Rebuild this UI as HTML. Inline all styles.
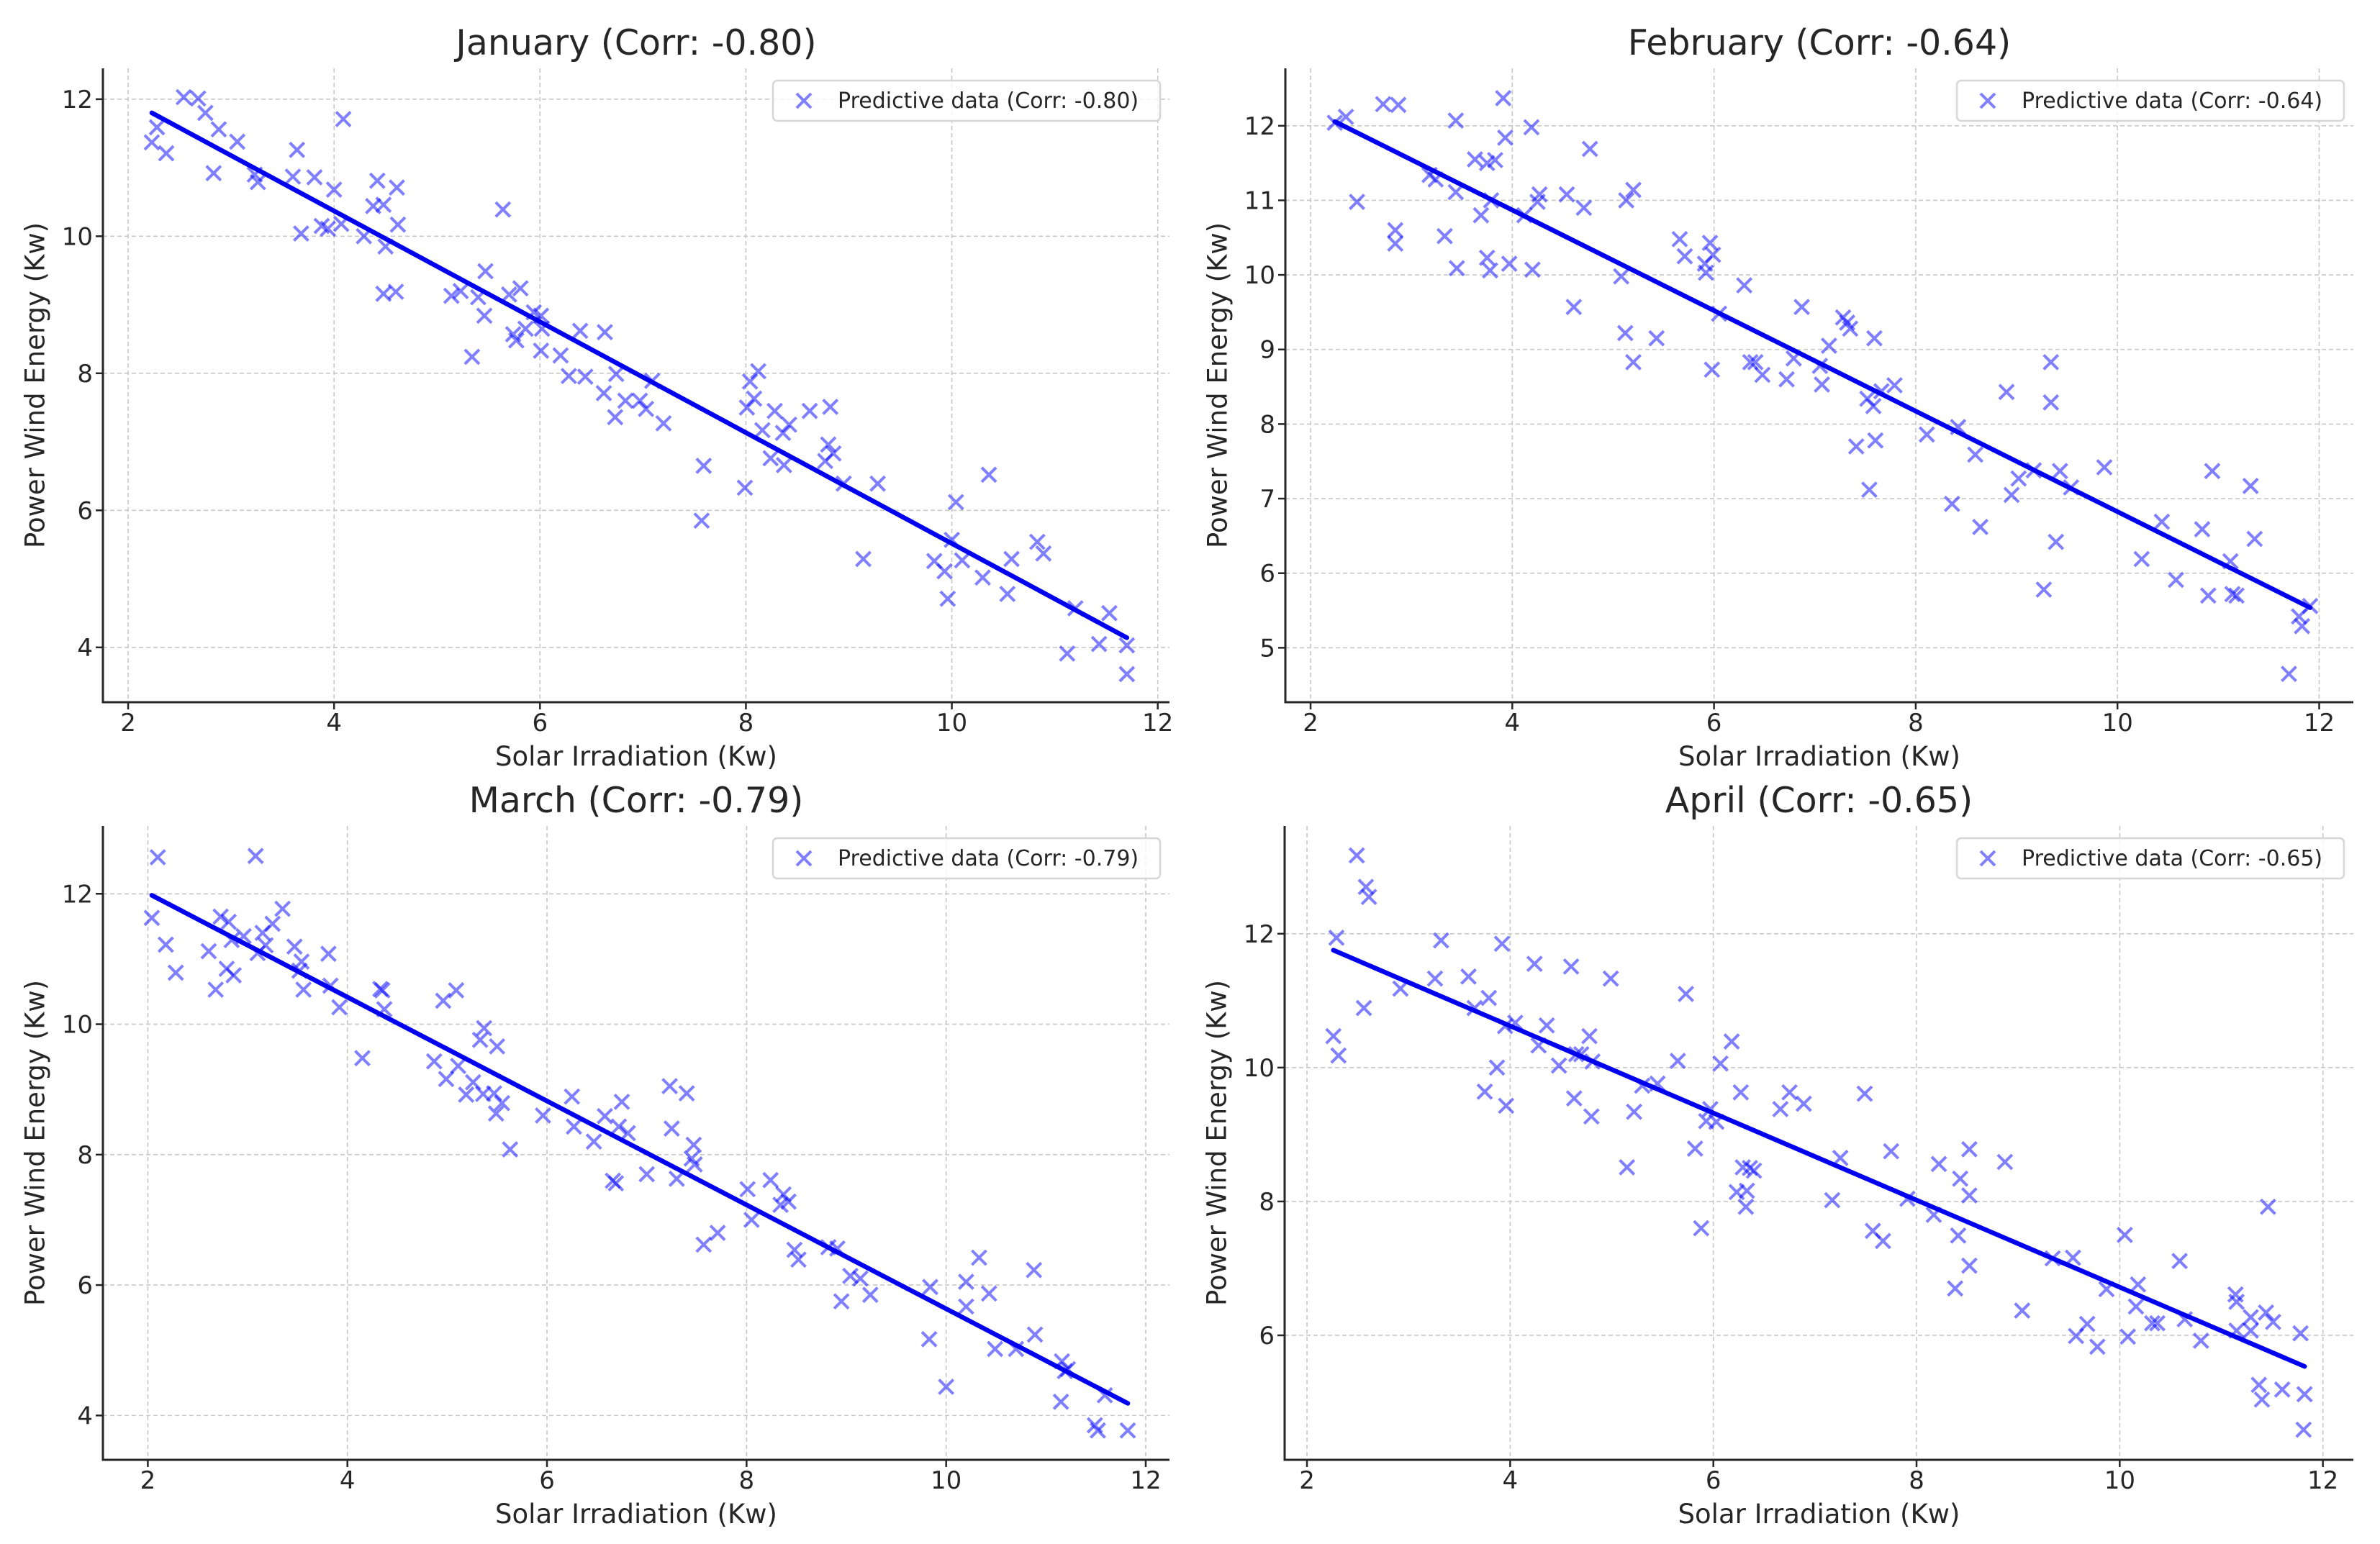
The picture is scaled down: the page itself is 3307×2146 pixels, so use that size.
<!DOCTYPE html>
<html><head><meta charset="utf-8"><title>Solar vs Wind</title>
<style>html,body{margin:0;padding:0;background:#fff}svg{display:block}text{font-family:"DejaVu Sans","Liberation Sans",sans-serif;fill:#262626}</style>
</head><body>
<svg id="chart" xmlns="http://www.w3.org/2000/svg" width="3307" height="2146" viewBox="0 0 3307 2146"></svg>
<script>
const janX=[2.23,2.28,2.37,2.54,2.68,2.75,2.88,2.83,3.06,3.23,3.26,3.6,3.64,3.68,3.81,3.88,3.94,4.0,4.09,4.07,4.29,4.42,4.38,4.48,4.5,4.48,4.61,4.62,4.6,5.14,5.23,5.4,5.47,5.46,5.34,5.64,5.7,5.81,5.74,5.77,5.86,5.94,6.01,6.02,6.01,6.2,6.28,6.39,6.44,6.63,6.62,6.74,6.73,6.83,6.97,7.03,7.09,7.2,7.59,7.57,7.99,8.01,8.04,8.08,8.12,8.16,8.24,8.28,8.36,8.37,8.42,8.62,8.77,8.8,8.85,8.82,8.95,9.28,9.14,9.83,9.93,9.96,10.0,10.04,10.1,10.3,10.36,10.54,10.58,10.83,10.89,11.12,11.2,11.43,11.53,11.7,11.7];
const janY=[11.37,11.59,11.21,12.03,12.01,11.8,11.56,10.92,11.38,10.9,10.79,10.87,11.26,10.04,10.86,10.15,10.11,10.68,11.71,10.18,10.0,10.81,10.44,10.46,9.85,9.16,10.71,10.17,9.19,9.13,9.2,9.11,9.49,8.84,8.24,10.39,9.15,9.24,8.57,8.48,8.65,8.89,8.84,8.65,8.33,8.26,7.96,8.62,7.95,8.6,7.71,7.99,7.36,7.6,7.6,7.48,7.89,7.27,6.65,5.85,6.33,7.5,7.88,7.63,8.03,7.17,6.76,7.45,7.13,6.66,7.25,7.45,6.72,6.96,6.83,7.51,6.39,6.39,5.29,5.26,5.11,4.71,5.57,6.12,5.27,5.02,6.52,4.78,5.29,5.54,5.37,3.91,4.57,4.05,4.5,4.03,3.61];
const febX=[2.24,2.35,2.46,2.72,2.87,2.84,2.84,3.18,3.24,3.33,3.44,3.44,3.45,3.63,3.69,3.75,3.75,3.78,3.83,3.79,3.91,3.93,3.97,4.12,4.19,4.2,4.25,4.27,4.54,4.61,4.71,4.77,5.08,5.13,5.2,5.12,5.2,5.43,5.66,5.71,5.91,5.92,5.96,5.99,5.98,6.05,6.3,6.36,6.41,6.48,6.72,6.79,6.87,7.05,7.07,7.14,7.28,7.32,7.35,7.41,7.54,7.52,7.58,7.59,7.6,7.66,7.79,8.11,8.36,8.42,8.59,8.64,8.9,8.95,9.02,9.17,9.27,9.34,9.34,9.39,9.43,9.54,9.87,10.24,10.44,10.58,10.84,10.9,10.94,11.12,11.14,11.18,11.32,11.36,11.7,11.8,11.83,11.91];
const febY=[12.04,12.12,10.98,12.29,12.28,10.6,10.42,11.34,11.28,10.52,12.07,11.11,10.09,11.55,10.8,11.5,10.23,10.06,11.54,11.0,12.37,11.84,10.15,10.8,11.98,10.07,10.98,11.08,11.08,9.57,10.9,11.69,9.98,11.0,11.14,9.22,8.83,9.15,10.48,10.25,10.15,10.03,10.43,10.27,8.73,9.48,9.86,8.83,8.83,8.66,8.6,8.88,9.57,8.78,8.53,9.05,9.43,9.36,9.28,7.7,7.12,8.34,8.24,9.15,7.78,8.44,8.52,7.86,6.93,7.96,7.59,6.62,8.43,7.05,7.27,7.38,5.78,8.83,8.29,6.42,7.37,7.15,7.42,6.19,6.69,5.91,6.59,5.7,7.37,6.16,5.72,5.7,7.17,6.46,4.65,5.42,5.29,5.56];
const marX=[2.04,2.1,2.18,2.28,2.61,2.68,2.73,2.79,2.81,2.84,2.86,2.96,3.08,3.1,3.15,3.18,3.25,3.35,3.47,3.52,3.54,3.56,3.81,3.83,3.92,4.15,4.33,4.35,4.37,4.87,4.96,5.09,4.99,5.11,5.19,5.26,5.33,5.37,5.36,5.47,5.49,5.5,5.55,5.63,5.96,6.25,6.27,6.47,6.58,6.66,6.69,6.72,6.75,6.81,7.0,7.23,7.25,7.3,7.4,7.45,7.47,7.48,7.57,7.71,8.01,8.05,8.24,8.34,8.37,8.42,8.48,8.52,8.82,8.91,8.95,9.04,9.14,9.24,9.84,9.83,10.0,10.2,10.2,10.33,10.43,10.49,10.7,10.88,10.89,11.15,11.16,11.19,11.22,11.49,11.52,11.59,11.82];
const marY=[11.63,12.56,11.22,10.79,11.12,10.53,11.65,10.85,11.57,11.29,10.75,11.35,12.58,11.09,11.4,11.21,11.54,11.77,11.19,10.82,10.96,10.53,11.08,10.59,10.26,9.48,10.54,10.52,10.23,9.43,10.36,10.52,9.16,9.36,8.92,9.11,9.76,9.94,8.93,8.94,8.63,9.66,8.79,8.08,8.6,8.89,8.43,8.2,8.59,7.6,7.56,8.43,8.81,8.33,7.7,9.05,8.4,7.63,8.94,7.94,8.15,7.85,6.62,6.8,7.47,7.0,7.61,7.23,7.39,7.28,6.54,6.39,6.58,6.56,5.75,6.14,6.1,5.85,5.97,5.17,4.44,6.05,5.67,6.42,5.87,5.02,5.02,6.23,5.24,4.21,4.83,4.68,4.71,3.85,3.77,4.31,3.77];
const aprX=[2.26,2.29,2.31,2.49,2.56,2.58,2.61,2.92,3.26,3.32,3.59,3.65,3.75,3.79,3.87,3.92,3.95,3.96,4.05,4.24,4.28,4.36,4.48,4.6,4.63,4.65,4.7,4.78,4.8,4.81,4.99,5.15,5.22,5.3,5.45,5.65,5.73,5.82,5.88,5.93,5.97,6.03,6.07,6.18,6.27,6.23,6.29,6.32,6.33,6.36,6.4,6.66,6.75,6.89,7.17,7.25,7.49,7.57,7.67,7.75,7.91,8.17,8.22,8.38,8.41,8.43,8.52,8.52,8.52,8.87,9.04,9.34,9.54,9.57,9.68,9.78,9.87,10.05,10.08,10.16,10.18,10.32,10.37,10.59,10.64,10.8,11.14,11.15,11.15,11.29,11.29,11.37,11.4,11.44,11.46,11.51,11.6,11.78,11.82,11.81];
const aprY=[10.47,11.94,10.18,13.17,10.89,12.7,12.55,11.18,11.33,11.9,11.36,10.89,9.64,11.04,10.0,11.85,10.62,9.43,10.67,11.55,10.33,10.63,10.03,11.51,9.54,10.2,10.2,10.47,9.27,10.09,11.33,8.51,9.34,9.73,9.76,10.1,11.1,8.79,7.6,9.2,9.38,9.19,10.06,10.39,9.63,8.14,8.51,7.92,8.16,8.5,8.46,9.38,9.63,9.46,8.02,8.65,9.61,7.56,7.41,8.75,8.04,7.8,8.56,6.7,7.49,8.34,8.78,8.09,7.04,8.59,6.37,7.15,7.16,5.99,6.17,5.83,6.69,7.5,5.98,6.43,6.76,6.18,6.18,7.11,6.24,5.92,6.61,6.5,6.07,6.27,6.07,5.26,5.04,6.34,7.92,6.2,5.19,6.03,5.12,4.59];
const xTicks=[2,4,6,8,10,12];
const janYTicks=[4,6,8,10,12];
const febYTicks=[5,6,7,8,9,10,11,12];
const marYTicks=[4,6,8,10,12];
const aprYTicks=[6,8,10,12];
const titles=["January (Corr: -0.80)","February (Corr: -0.64)","March (Corr: -0.79)","April (Corr: -0.65)"];
const legends=["Predictive data (Corr: -0.80)","Predictive data (Corr: -0.64)","Predictive data (Corr: -0.79)","Predictive data (Corr: -0.65)"];

const panels=[
 {key:'january',xs:janX,ys:janY,yt:janYTicks,L:143,R:1625,T:95,B:976,xmin:1.755,xmax:12.114,ymin:3.2,ymax:12.45},
 {key:'february',xs:febX,ys:febY,yt:febYTicks,L:1786,R:3270,T:95,B:976,xmin:1.75,xmax:12.339,ymin:4.27,ymax:12.77},
 {key:'march',xs:marX,ys:marY,yt:marYTicks,L:143,R:1625,T:1148,B:2029,xmin:1.55,xmax:12.238,ymin:3.32,ymax:13.04},
 {key:'april',xs:aprX,ys:aprY,yt:aprYTicks,L:1785,R:3270,T:1148,B:2029,xmin:1.78,xmax:12.30,ymin:4.14,ymax:13.61}
];
const NS='http://www.w3.org/2000/svg';
const svg=document.getElementById('chart');
function mk(tag,attrs,parent){const e=document.createElementNS(NS,tag);for(const k in attrs)e.setAttribute(k,attrs[k]);(parent||svg).appendChild(e);return e;}
function cross(g,cx,cy,s,stroke,w){
  return mk('path',{d:`M${cx-s},${cy-s}L${cx+s},${cy+s}M${cx-s},${cy+s}L${cx+s},${cy-s}`,stroke:stroke,'stroke-width':w,fill:'none'},g);}
panels.forEach((P,i)=>{
  const sx=v=>P.L+(v-P.xmin)/(P.xmax-P.xmin)*(P.R-P.L);
  const sy=v=>P.B-(v-P.ymin)/(P.ymax-P.ymin)*(P.B-P.T);
  const g=mk('g',{});
  
  
  const grid=mk('g',{stroke:'#c8c8c8','stroke-width':1.6,'stroke-dasharray':'6,4'},g);
  
  
  xTicks.forEach(t=>{mk('line',{x1:sx(t),x2:sx(t),y1:P.T,y2:P.B},grid);});
  P.yt.forEach(t=>{mk('line',{x1:P.L,x2:P.R,y1:sy(t),y2:sy(t)},grid);});
  const xa=mk('g',{},g);
  
  
  xTicks.forEach(t=>{
    mk('line',{x1:sx(t),x2:sx(t),y1:P.B,y2:P.B+10,stroke:'#262626','stroke-width':2.5},xa);
    const tx=mk('text',{x:sx(t),y:P.B+40,'font-size':34,'text-anchor':'middle'},xa);tx.textContent=t;
    
    
  });
  const ya=mk('g',{},g);
  
  
  P.yt.forEach(t=>{
    mk('line',{x1:P.L-10,x2:P.L,y1:sy(t),y2:sy(t),stroke:'#262626','stroke-width':2.5},ya);
    const tx=mk('text',{x:P.L-14,y:sy(t)+12,'font-size':34,'text-anchor':'end'},ya);tx.textContent=t;
    
    
  });
  mk('path',{d:`M${P.L},${P.T}L${P.L},${P.B}L${P.R},${P.B}`,stroke:'#262626','stroke-width':3,fill:'none'},g);
  const sc=mk('g',{},g);
  
  
  P.xs.forEach((x,j)=>{
    const m=cross(sc,sx(x),sy(P.ys[j]),10,'rgba(0,0,255,0.5)',4);
    
    
  });
  const n=P.xs.length;let mx=0,my=0;P.xs.forEach((x,j)=>{mx+=x;my+=P.ys[j];});mx/=n;my/=n;
  let sxy=0,sxx=0;P.xs.forEach((x,j)=>{sxy+=(x-mx)*(P.ys[j]-my);sxx+=(x-mx)*(x-mx);});
  const b=sxy/sxx,a=my-b*mx;const x0=Math.min(...P.xs),x1=Math.max(...P.xs);
  const ln=mk('line',{x1:sx(x0),y1:sy(a+b*x0),x2:sx(x1),y2:sy(a+b*x1),stroke:'#0000ee','stroke-width':6.5,'stroke-linecap':'round'},g);
  
  
  const cx=(P.L+P.R)/2;
  const ti=mk('text',{x:cx,y:P.T-19,'font-size':49,'text-anchor':'middle'},g);ti.textContent=titles[i];
  
  
  const xl=mk('text',{x:cx,y:P.B+88,'font-size':37,'text-anchor':'middle'},g);xl.textContent='Solar Irradiation (Kw)';
  
  
  const lx=P.L-92,lyc=(P.T+P.B)/2;
  const yl=mk('text',{x:lx,y:lyc,'font-size':37,'text-anchor':'middle',transform:`rotate(-90 ${lx} ${lyc})`,'dominant-baseline':'middle'},g);yl.textContent='Power Wind Energy (Kw)';
  
  
  const lg=mk('g',{},g);
  
  
  const lw=538,lh=56,lxr=P.R-13-lw,lyt=P.T+17;
  mk('rect',{x:lxr,y:lyt,width:lw,height:lh,rx:6,fill:'rgba(255,255,255,0.8)',stroke:'#d6d6d6','stroke-width':2.5},lg);
  cross(lg,lxr+43,lyt+28,10,'rgba(0,0,255,0.5)',4);
  const lt=mk('text',{x:lxr+90,y:lyt+38,'font-size':30},lg);lt.textContent=legends[i];
  
  
});
</script>
</body></html>
